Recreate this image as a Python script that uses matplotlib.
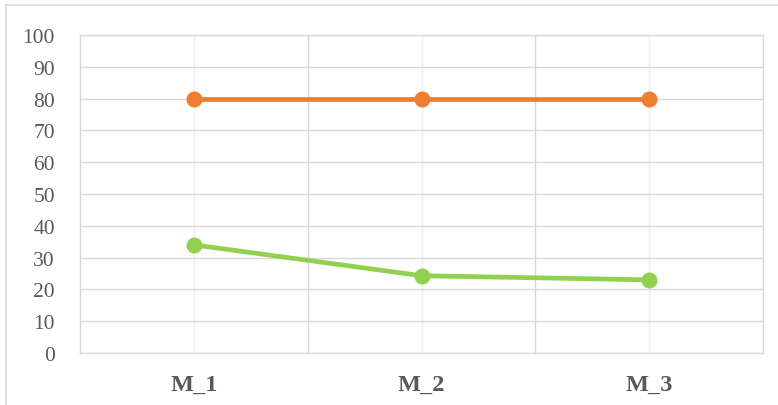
import matplotlib
matplotlib.use("Agg")
import matplotlib.pyplot as plt
from matplotlib.lines import Line2D
import numpy as np

categories = ["M_1", "M_2", "M_3"]
series_orange = [80, 80, 80]
series_green = [34, 24.3, 23]
y_ticks = [0, 10, 20, 30, 40, 50, 60, 70, 80, 90, 100]

W, H = 778, 406
fig = plt.figure(figsize=(W / 100, H / 100), dpi=100)
ax = fig.add_axes([80 / W, (H - 354) / H, 683 / W, 318 / H])

x = np.arange(len(categories)) + 0.5
ax.set_xlim(0, len(categories))
ax.set_ylim(0, 100)

grid_c = "#d9d9d9"
ax.set_yticks(y_ticks)
ax.set_xticks(x)
ax.set_xticks(np.arange(1, len(categories)), minor=True)
ax.grid(axis="y", which="major", color=grid_c, lw=1.0)
ax.grid(axis="x", which="major", color="#efefef", lw=1.0)
ax.grid(axis="x", which="minor", color=grid_c, lw=1.0)
ax.set_axisbelow(True)
for s in ax.spines.values():
    s.set_color(grid_c)
    s.set_linewidth(1.0)

ax.plot(x, series_orange, color="#ED7D31", lw=3.4, marker="o", ms=10.5, solid_capstyle="round", zorder=3)
ax.plot(x, series_green, color="#92D050", lw=3.4, marker="o", ms=10.5, solid_capstyle="round", zorder=3)

ax.tick_params(axis="both", which="both", length=0)
ax.tick_params(axis="y", pad=18)
ax.tick_params(axis="x", pad=15)
ax.set_yticklabels([str(v) for v in y_ticks], fontfamily="Liberation Serif", fontsize=15.5, color="#595959")
ax.set_xticklabels(categories, fontfamily="Liberation Serif", fontsize=17.5, fontweight="bold", color="#595959")

fig.add_artist(Line2D([6 / W, 6 / W], [0, 1 - 6 / H], color=grid_c, lw=1.2, transform=fig.transFigure))
fig.add_artist(Line2D([6 / W, 1], [1 - 6 / H, 1 - 6 / H], color=grid_c, lw=1.2, transform=fig.transFigure))

fig.savefig("out.png", dpi=100)
